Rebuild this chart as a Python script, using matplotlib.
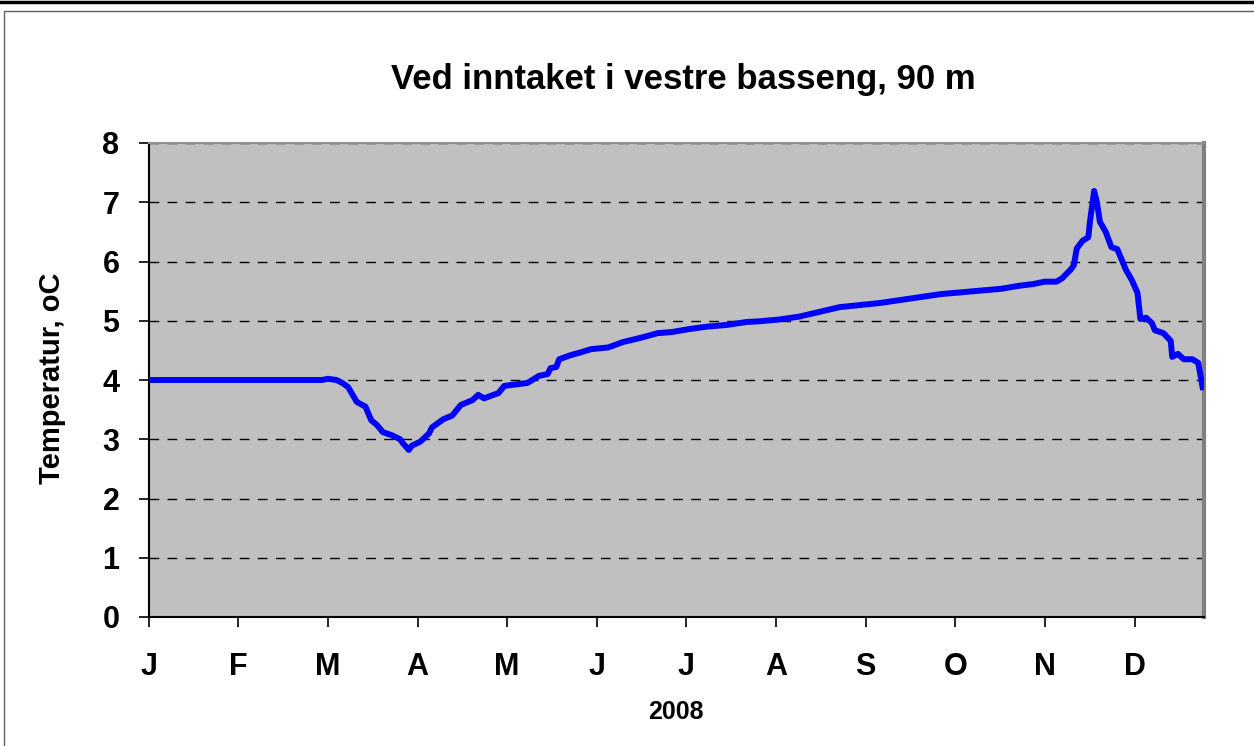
import matplotlib
matplotlib.use("Agg")

import matplotlib.pyplot as plt
from matplotlib.lines import Line2D
from matplotlib.patches import Rectangle

# =====================================================
# DATA (day index in 2008)
# =====================================================
days = [0, 60, 62, 65, 67, 69, 72, 75, 77, 79, 81, 84, 87, 88, 90,
        91, 94, 97, 98, 102, 105, 108, 112, 114, 116, 121, 123, 131,
        135, 138, 139, 141, 142, 146, 149, 153, 159, 164, 170, 176,
        181, 187, 193, 200, 207, 211, 218, 225, 239, 253, 274, 295,
        301, 306, 310, 314, 316, 319, 320, 321, 323, 325, 325.5, 327,
        328, 329, 331, 333, 335, 338, 340, 342, 343, 345, 347, 348,
        351, 353.5, 354, 356, 358, 361, 363, 364.5]
temps = [4.00, 4.00, 4.02, 4.00, 3.95, 3.88, 3.63, 3.55, 3.32, 3.24,
         3.12, 3.07, 3.00, 2.93, 2.82, 2.89, 2.96, 3.10, 3.20, 3.34,
         3.40, 3.58, 3.66, 3.75, 3.69, 3.78, 3.90, 3.95, 4.07, 4.10,
         4.20, 4.22, 4.35, 4.42, 4.46, 4.52, 4.55, 4.64, 4.71, 4.79,
         4.81, 4.86, 4.90, 4.93, 4.98, 4.99, 5.02, 5.07, 5.23, 5.30,
         5.45, 5.54, 5.59, 5.62, 5.66, 5.66, 5.72, 5.87, 5.94, 6.22,
         6.35, 6.41, 6.65, 7.19, 6.99, 6.67, 6.50, 6.24, 6.21, 5.86,
         5.69, 5.47, 5.03, 5.05, 4.96, 4.84, 4.79, 4.66, 4.39, 4.44,
         4.35, 4.35, 4.29, 3.88]

month_labels = ["J", "F", "M", "A", "M", "J", "J", "A", "S", "O", "N", "D"]
month_ticks = [i * 31 for i in range(12)]
y_ticks = [0, 1, 2, 3, 4, 5, 6, 7, 8]

plt.rcParams["font.family"] = ["Liberation Sans", "DejaVu Sans"]
plt.rcParams["font.weight"] = "bold"

fig = plt.figure(figsize=(12.54, 7.46), dpi=100)
fig.patch.set_facecolor("white")

W, H = 1254.0, 746.0

# frame around the chart
fig.add_artist(Line2D([0, 1], [1 - 1.5 / H, 1 - 1.5 / H], color="black", lw=2.5))
fig.add_artist(Rectangle((4 / W, -0.01), 1.0, 1 - 10.5 / H + 0.01, fill=False,
                         edgecolor="#606060", lw=1.0))

ax = fig.add_axes([148.6 / W, (H - 617) / H, 1055.4 / W, 474 / H])
ax.set_facecolor("#C0C0C0")

ax.plot(days, temps, color="#0000FF", lw=4.3, solid_joinstyle="round", zorder=3)

ax.set_xlim(0, 365)
ax.set_ylim(0, 8)
ax.set_xticks(month_ticks)
ax.set_xticklabels(month_labels)
ax.set_yticks(y_ticks)

ax.yaxis.grid(True, color="black", linestyle=(0, (7, 6)), lw=1.0)
ax.set_axisbelow(True)

ax.tick_params(axis="both", direction="out", length=7, width=1.2,
               labelsize=22, colors="black")
ax.tick_params(axis="x", pad=18)
ax.tick_params(axis="y", pad=14)

for lab in ax.get_xticklabels() + ax.get_yticklabels():
    lab.set_fontweight("bold")

ax.spines["left"].set_color("black")
ax.spines["bottom"].set_color("black")
ax.spines["left"].set_linewidth(1.5)
ax.spines["bottom"].set_linewidth(1.5)
ax.spines["top"].set_color("#909090")
ax.spines["top"].set_linewidth(1.5)
ax.spines["right"].set_color("#808080")
ax.spines["right"].set_linewidth(3)

fig.text(683 / W, 1 - 80 / H, "Ved inntaket i vestre basseng, 90 m",
         ha="center", va="center", fontsize=25, fontweight="bold")
fig.text(52 / W, 1 - 378 / H, "Temperatur, oC", rotation=90,
         ha="center", va="center", fontsize=21, fontweight="bold")
fig.text(676 / W, 1 - 712 / H, "2008", ha="center", va="center",
         fontsize=18, fontweight="bold")

fig.savefig("out.png", dpi=100)
